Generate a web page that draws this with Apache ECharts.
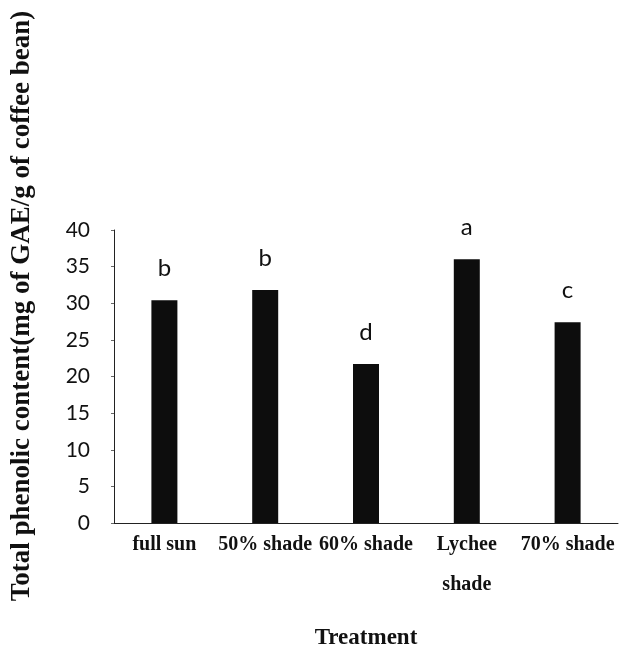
<!DOCTYPE html>
<html>
<head>
<meta charset="utf-8">
<script src="https://cdn.jsdelivr.net/npm/echarts@6/dist/echarts.min.js"></script>
<style>
html,body{margin:0;padding:0;background:#fff;}
#chart{width:626px;height:653px;}
</style>
</head>
<body>
<div id="chart"></div>
<script>
var categories = ['full sun', '50% shade', '60% shade', 'Lychee\nshade', '70% shade'];
var values = [30.4, 31.8, 21.7, 36.0, 27.4];
var letters = ['b', 'b', 'd', 'a', 'c'];
var yTicks = [0, 5, 10, 15, 20, 25, 30, 35, 40];
var yTitle = 'Total phenolic content(mg of GAE/g of coffee bean)';
var xTitle = 'Treatment';

var chart = echarts.init(document.getElementById('chart'), null, {renderer: 'canvas'});
chart.setOption({
  backgroundColor: '#ffffff',
  animation: false,
  grid: {left: 114, right: 8, top: 230, bottom: 130, containLabel: false, outerBoundsMode: 'none'},
  graphic: [{
    type: 'text',
    rotation: Math.PI / 2,
    x: 22,
    y: 306,
    style: {
      text: yTitle,
      font: 'bold 27px "Liberation Serif", "DejaVu Serif", serif',
      fill: '#111',
      textAlign: 'center',
      textVerticalAlign: 'middle'
    }
  }],
  xAxis: {
    type: 'category',
    data: categories,
    name: xTitle,
    nameLocation: 'middle',
    nameGap: 104,
    nameTextStyle: {fontFamily: '"Liberation Serif", serif', fontWeight: 'bold', fontSize: 23, color: '#111'},
    axisLine: {lineStyle: {color: '#222', width: 1}},
    axisTick: {show: false},
    axisLabel: {
      interval: 0,
      margin: 2,
      fontFamily: '"Liberation Serif", serif',
      fontWeight: 'bold',
      fontSize: 20,
      color: '#111',
      lineHeight: 40
    }
  },
  yAxis: {
    type: 'value',
    min: 0,
    max: 40,
    interval: 5,
    axisLine: {show: true, lineStyle: {color: '#222', width: 1}},
    axisTick: {show: true, length: 3, lineStyle: {color: '#666'}},
    splitLine: {show: false},
    axisLabel: {
      margin: 24,
      fontFamily: 'Lato, "Open Sans", sans-serif',
      fontSize: 21,
      color: '#111',
      formatter: function (v) { return yTicks.indexOf(v) >= 0 ? String(v) : ''; }
    }
  },
  series: [{
    type: 'bar',
    data: values,
    barWidth: 26,
    itemStyle: {color: '#0d0d0d'},
    label: {
      show: true,
      position: 'top',
      distance: 20,
      fontFamily: 'Lato, "Open Sans", sans-serif',
      fontSize: 24,
      color: '#111',
      formatter: function (p) { return letters[p.dataIndex]; }
    }
  }]
});
</script>
</body>
</html>
